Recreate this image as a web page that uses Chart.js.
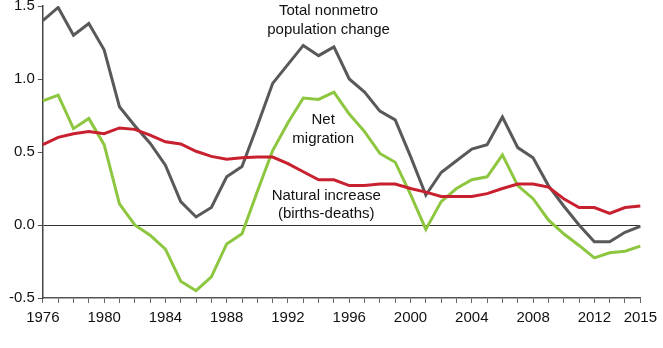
<!DOCTYPE html>
<html>
<head>
<meta charset="utf-8">
<script src="https://cdn.jsdelivr.net/npm/chart.js@4"></script>
<style>
  html, body { margin: 0; padding: 0; background: #fff; overflow: hidden; }
  #wrap { position: relative; width: 663px; height: 348px; overflow: hidden; }
  #chart { position: absolute; left: 0; top: -6px; }
</style>
</head>
<body>
<div id="wrap"><canvas id="chart" width="663" height="354"></canvas></div>
<script>
// years 1976-2015
var years = [];
for (var yr = 1976; yr <= 2015; yr++) years.push(yr);

// percent change
var totalChange = [1.40, 1.49, 1.30, 1.38, 1.20, 0.81, 0.68, 0.56, 0.41, 0.16,
                   0.055, 0.12, 0.33, 0.40, 0.68, 0.97, 1.10, 1.23, 1.16, 1.22,
                   1.00, 0.91, 0.78, 0.72, 0.47, 0.205, 0.36, 0.44, 0.52, 0.55,
                   0.74, 0.53, 0.46, 0.27, 0.13, 0.0, -0.115, -0.115, -0.05, -0.01];
var netMigration = [0.85, 0.89, 0.66, 0.73, 0.55, 0.145, 0.0, -0.07, -0.165, -0.385,
                    -0.45, -0.355, -0.13, -0.06, 0.23, 0.51, 0.70, 0.87, 0.86, 0.91,
                    0.76, 0.64, 0.49, 0.43, 0.21, -0.03, 0.16, 0.25, 0.31, 0.33,
                    0.48, 0.27, 0.18, 0.035, -0.06, -0.14, -0.225, -0.19, -0.18, -0.145];
var naturalIncrease = [0.55, 0.60, 0.625, 0.64, 0.625, 0.665, 0.655, 0.615, 0.57, 0.555,
                       0.505, 0.47, 0.45, 0.46, 0.465, 0.465, 0.42, 0.365, 0.31, 0.31,
                       0.27, 0.27, 0.28, 0.28, 0.25, 0.225, 0.195, 0.195, 0.195, 0.215,
                       0.25, 0.28, 0.28, 0.26, 0.18, 0.12, 0.12, 0.08, 0.12, 0.13];

var xLabelYears = [1976, 1980, 1984, 1988, 1992, 1996, 2000, 2004, 2008, 2012, 2015];
var yTicks = [-0.5, 0.0, 0.5, 1.0, 1.5];

// text labels on the plot: [lines, year position, value]
var notes = [
    [['Total nonmetro', 'population change'], 1994.65, 1.465],
    [['Net', 'migration'], 1994.3, 0.72],
    [['Natural increase', '(births-deaths)'], 1994.5, 0.20]
];

var FONT = '"Liberation Sans", Arial, Helvetica, sans-serif';

var notesPlugin = {
    id: 'notes',
    afterDatasetsDraw: function(chart) {
        var ctx = chart.ctx;
        var xs = chart.scales.x, ys = chart.scales.y;
        ctx.save();
        ctx.font = '15px ' + FONT;
        ctx.fillStyle = '#111';
        ctx.textAlign = 'center';
        ctx.textBaseline = 'middle';
        notes.forEach(function(n) {
            var px = xs.getPixelForValue(n[1] - years[0]);
            var py = ys.getPixelForValue(n[2]);
            n[0].forEach(function(line, i) {
                ctx.fillText(line, px, py + i * 18.5);
            });
        });
        ctx.restore();
    }
};

function lineSet(data, color) {
    return {
        data: data,
        borderColor: color,
        borderWidth: 3,
        pointRadius: 0,
        tension: 0,
        fill: false
    };
}

var ctx = document.getElementById('chart').getContext('2d');
var chart = new Chart(ctx, {
    type: 'line',
    data: {
        labels: years,
        datasets: [
            lineSet(naturalIncrease, '#c8202f'),
            lineSet(netMigration, '#8dc63f'),
            lineSet(totalChange, '#595959')
        ]
    },
    options: {
        responsive: false,
        animation: false,
        layout: { padding: { left: 6, right: 1, top: 0, bottom: 15 } },
        plugins: {
            legend: { display: false },
            tooltip: { enabled: false }
        },
        scales: {
            x: {
                type: 'category',
                offset: false,
                border: { display: true, color: '#555', width: 1.5 },
                grid: {
                    drawOnChartArea: false,
                    drawTicks: true,
                    tickLength: 5,
                    tickColor: '#666'
                },
                ticks: {
                    autoSkip: false,
                    maxRotation: 0,
                    padding: 6,
                    color: '#111',
                    font: { family: FONT, size: 15 },
                    callback: function(value, index) {
                        var y = years[index];
                        return xLabelYears.indexOf(y) >= 0 ? String(y) : '';
                    }
                }
            },
            y: {
                min: yTicks[0],
                max: yTicks[yTicks.length - 1],
                border: { display: true, color: '#444', width: 1.5 },
                afterBuildTicks: function(scale) {
                    scale.ticks = yTicks.map(function(v) { return { value: v }; });
                },
                grid: {
                    drawTicks: true,
                    tickLength: 5,
                    tickColor: '#555',
                    color: function(c) {
                        return c.tick && c.tick.value === 0 ? '#333' : 'rgba(0,0,0,0)';
                    },
                    lineWidth: 1
                },
                ticks: {
                    padding: 3,
                    color: '#111',
                    font: { family: FONT, size: 15 },
                    callback: function(v) { return Number(v).toFixed(1); }
                }
            }
        }
    },
    plugins: [notesPlugin]
});
</script>
</body>
</html>
